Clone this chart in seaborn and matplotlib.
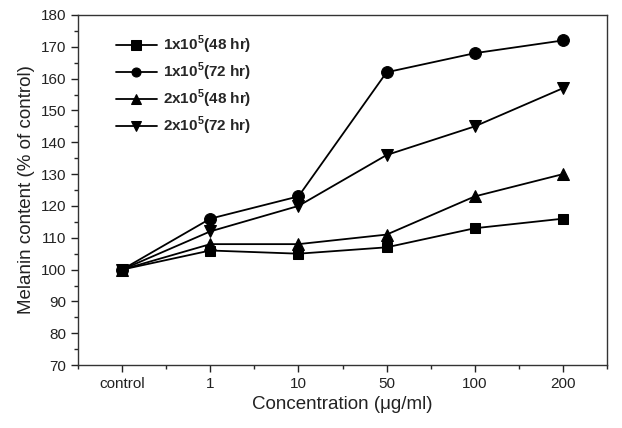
import pandas as pd
import numpy as np
import matplotlib
matplotlib.use("Agg")
import matplotlib.pyplot as plt
import seaborn as sns
from matplotlib.ticker import MultipleLocator

# concentrations (categorical axis)
conc = ["control", "1", "10", "50", "100", "200"]

# melanin content (% of control)
m_1e5_48 = [100, 106, 105, 107, 113, 116]
m_1e5_72 = [100, 116, 123, 162, 168, 172]
m_2e5_48 = [100, 108, 108, 111, 123, 130]
m_2e5_72 = [100, 112, 120, 136, 145, 157]

names = ["1e5_48", "1e5_72", "2e5_48", "2e5_72"]
labels = [r"1x10$^\mathbf{5}$(48 hr)", r"1x10$^\mathbf{5}$(72 hr)",
          r"2x10$^\mathbf{5}$(48 hr)", r"2x10$^\mathbf{5}$(72 hr)"]

rows = []
for n, vals in zip(names, [m_1e5_48, m_1e5_72, m_2e5_48, m_2e5_72]):
    for i, v in enumerate(vals):
        rows.append({"pos": i, "value": v, "series": n})
df = pd.DataFrame(rows)

sns.set_style("ticks")
plt.rcParams["font.family"] = ["Liberation Sans", "DejaVu Sans"]
plt.rcParams["mathtext.fontset"] = "custom"
plt.rcParams["mathtext.rm"] = "Liberation Sans"
plt.rcParams["mathtext.bf"] = "Liberation Sans:bold"

fig = plt.figure(figsize=(6.22, 4.28), dpi=100)
ax = fig.add_axes([0.1254, 0.147, 0.8506, 0.818])

marks = {"1e5_48": "s", "1e5_72": "o", "2e5_48": "^", "2e5_72": "v"}
sns.lineplot(data=df, x="pos", y="value", style="series", style_order=names,
             markers=marks, dashes=False, color="black", linewidth=1.3,
             markersize=8.5, markeredgecolor="black", ax=ax, legend=True)

# squares look a bit smaller in the original
for ln in ax.lines:
    if ln.get_marker() == "s":
        ln.set_markersize(7)

handles, _ = ax.get_legend_handles_labels()
leg = ax.legend(handles[-4:], labels, loc="upper left", bbox_to_anchor=(0.045, 0.985),
                frameon=False, prop={"weight": "bold", "size": 11},
                handlelength=2.7, handletextpad=0.4, labelspacing=0.3)
for h in leg.legend_handles:
    h.set_markersize(6.5)

ax.set_xlim(-0.5, 5.5)
ax.set_ylim(70, 180)
ax.set_xticks(range(len(conc)))
ax.set_xticklabels(conc)
ax.xaxis.set_minor_locator(MultipleLocator(0.5))
ax.yaxis.set_major_locator(MultipleLocator(10))
ax.yaxis.set_minor_locator(MultipleLocator(5))
ax.tick_params(axis="both", which="major", direction="out", length=5, width=1,
               labelsize=11, colors="#222222")
ax.tick_params(axis="both", which="minor", direction="out", length=3, width=1)
ax.tick_params(top=False, right=False, which="both")
for s in ax.spines.values():
    s.set_linewidth(1)
    s.set_color("#333333")

ax.set_xlabel("Concentration (\u03bcg/ml)", fontsize=13.5, color="#222222")
ax.set_ylabel("Melanin content (% of control)", fontsize=13.5, color="#222222")

fig.savefig("out.png", dpi=100)
